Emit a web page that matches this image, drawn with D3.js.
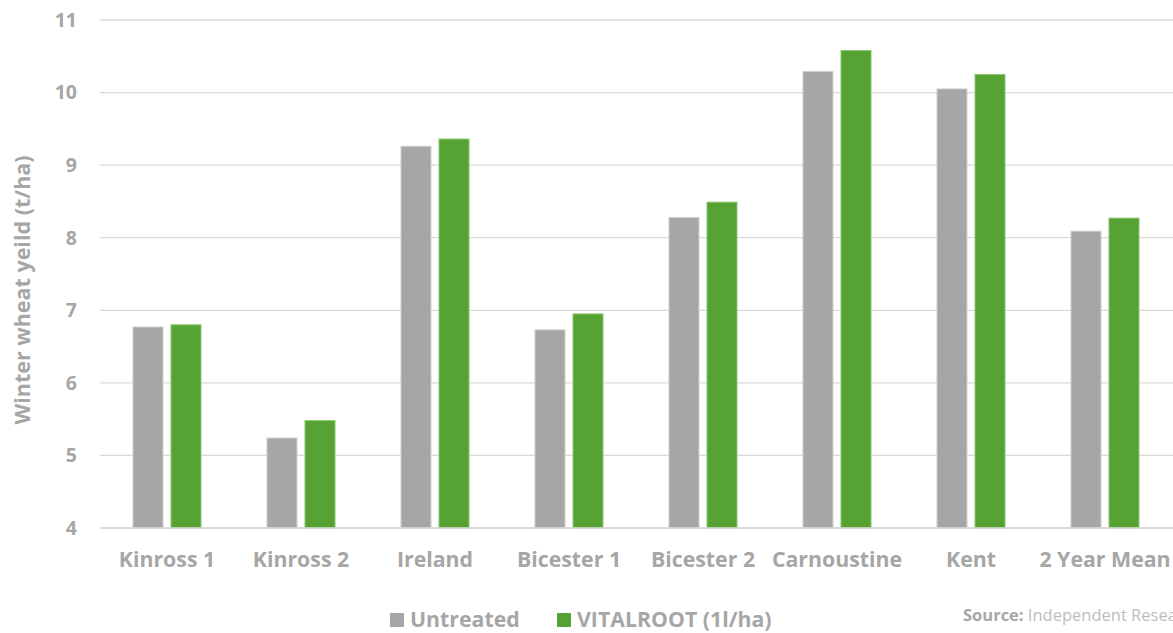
<!DOCTYPE html>
<html><head><meta charset="utf-8">
<script src="https://cdn.jsdelivr.net/npm/d3@7"></script>
<style>
html,body{margin:0;padding:0;background:#fff;overflow:hidden;}
svg{display:block;font-family:"Open Sans",sans-serif;}
</style></head>
<body><svg id="chart" width="1173" height="633"></svg>
<script>
const categories = ["Kinross 1","Kinross 2","Ireland","Bicester 1","Bicester 2","Carnoustine","Kent","2 Year Mean"];
const seriesNames = ["Untreated","VITALROOT (1l/ha)"];
const untreated = [6.77, 5.24, 9.26, 6.73, 8.28, 10.29, 10.05, 8.09];
const vitalroot = [6.80, 5.48, 9.36, 6.95, 8.49, 10.58, 10.25, 8.27];
const yTicks = [4,5,6,7,8,9,10,11];
const colors = ["#a6a6a6","#56a233"];
const strokes = ["#cfcfcf","#8cc872"];

const svg = d3.select("#chart");
const textColor = "#a6a6a6";
const mLeft = 100, mRight = 1172, mTop = 20, mBottom = 528;

const x0 = d3.scaleBand().domain(categories).range([mLeft, mRight]).padding(0);
const x1 = d3.scaleBand().domain(seriesNames).range([0, x0.bandwidth()]).paddingInner(8/38).paddingOuter(0.868);
const y = d3.scaleLinear().domain([4, 11]).range([mBottom, mTop]);

// gridlines
svg.append("g").selectAll("line").data(yTicks).join("line")
  .attr("x1", mLeft).attr("x2", 1173)
  .attr("y1", d => y(d)).attr("y2", d => y(d))
  .attr("stroke", "#d9d9d9").attr("stroke-width", 1.3);

// y tick labels
svg.append("g").selectAll("text").data(yTicks).join("text")
  .attr("x", 77).attr("y", d => y(d)).attr("dy", "0.35em")
  .attr("text-anchor", "end").attr("fill", textColor)
  .attr("font-size", 19.5).attr("font-weight", 700).text(d => d);

// y title
svg.append("text")
  .attr("transform", "translate(30,290) rotate(-90)")
  .attr("text-anchor", "middle").attr("fill", textColor)
  .attr("font-size", 21.5).attr("font-weight", 700)
  .text("Winter wheat yeild (t/ha)");

// bars
const data = categories.map((c, i) => ({cat: c, vals: [untreated[i], vitalroot[i]]}));
const groups = svg.append("g").selectAll("g").data(data).join("g")
  .attr("transform", d => `translate(${x0(d.cat)},0)`);
groups.selectAll("rect").data(d => d.vals.map((v, j) => ({s: seriesNames[j], v, j}))).join("rect")
  .attr("x", d => x1(d.s)).attr("width", x1.bandwidth())
  .attr("y", d => y(d.v)).attr("height", d => y(4) - y(d.v))
  .attr("fill", d => colors[d.j]).attr("stroke", d => strokes[d.j]).attr("stroke-width", 1);

// baseline
svg.append("line").attr("x1", mLeft).attr("x2", 1173).attr("y1", mBottom).attr("y2", mBottom)
  .attr("stroke", "#d9d9d9").attr("stroke-width", 1.3);

// x labels
svg.append("g").selectAll("text").data(categories).join("text")
  .attr("x", d => x0(d) + x0.bandwidth()/2).attr("y", 567)
  .attr("text-anchor", "middle").attr("fill", textColor)
  .attr("font-size", 21.3).attr("font-weight", 700).text(d => d);

// legend
const legendPos = [390, 557];
const lg = svg.append("g").selectAll("g").data(seriesNames).join("g")
  .attr("transform", (d, i) => `translate(${legendPos[i]},0)`);
lg.append("rect").attr("x", 0).attr("y", 613).attr("width", 14).attr("height", 14)
  .attr("fill", (d, i) => colors[i]);
lg.append("text").attr("x", 20).attr("y", 627).attr("fill", textColor)
  .attr("font-size", 21.3).attr("font-weight", 700).text(d => d);

// source
const src = svg.append("text").attr("x", 963).attr("y", 621).attr("font-size", 16.5);
src.append("tspan").attr("font-weight", 700).attr("fill", textColor).text("Source:");
src.append("tspan").attr("fill", "#bdbdbd").text(" Independent Research");
</script></body></html>
